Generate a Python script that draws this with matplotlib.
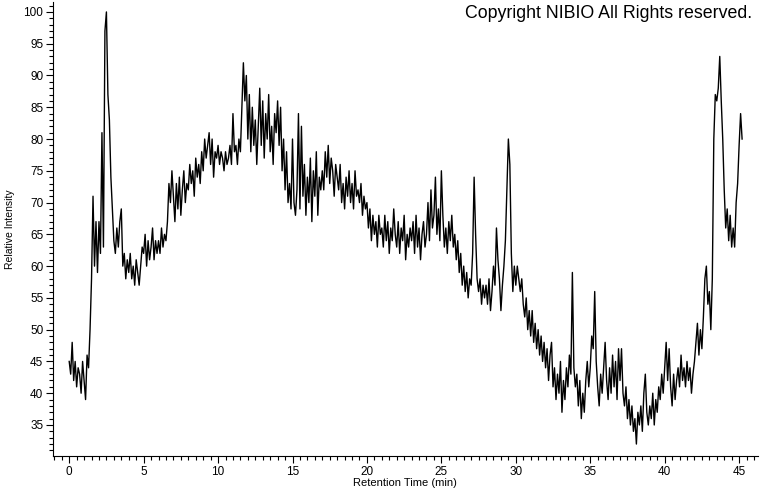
import numpy as np
import matplotlib.pyplot as plt
from matplotlib.ticker import MultipleLocator

# relative intensity, sampled every 0.1 min, one list per 5-minute block
rt_step = 0.1
block_00_05 = [
    45, 43, 48, 42, 45, 41, 44, 43, 40, 45,
    42, 39, 46, 44, 50, 58, 71, 60, 67, 59,
    67, 62, 81, 63, 97, 100, 87, 83, 74, 69,
    64, 62, 66, 63, 67, 69, 60, 62, 58, 61,
    59, 62, 58, 60, 57, 61, 59, 57, 60, 63,
]
block_05_10 = [
    62, 65, 60, 64, 61, 63, 66, 61, 64, 62,
    64, 62, 66, 63, 65, 64, 67, 73, 70, 75,
    71, 67, 73, 69, 74, 68, 72, 75, 70, 73,
    72, 76, 73, 75, 71, 77, 74, 76, 73, 78,
    75, 80, 77, 79, 81, 76, 80, 74, 78, 77,
]
block_10_15 = [
    79, 76, 78, 77, 75, 78, 76, 77, 79, 76,
    84, 78, 79, 76, 80, 78, 85, 92, 86, 90,
    80, 87, 78, 85, 79, 83, 76, 82, 88, 79,
    86, 77, 84, 80, 87, 78, 82, 76, 84, 81,
    86, 79, 85, 75, 80, 72, 78, 70, 73, 69,
]
block_15_20 = [
    80, 70, 68, 72, 84, 69, 82, 71, 76, 68,
    74, 70, 77, 67, 75, 71, 78, 68, 74, 72,
    75, 72, 78, 74, 79, 73, 77, 75, 71, 76,
    74, 72, 76, 70, 73, 69, 74, 71, 75, 70,
    73, 69, 75, 71, 72, 70, 73, 68, 71, 69,
]
block_20_25 = [
    70, 66, 69, 64, 68, 65, 67, 63, 68, 65,
    66, 63, 68, 64, 67, 62, 66, 64, 69, 65,
    63, 67, 62, 66, 64, 68, 61, 65, 63, 66,
    64, 67, 62, 68, 63, 66, 61, 65, 67, 63,
    65, 70, 64, 72, 66, 68, 74, 65, 69, 64,
]
block_25_30 = [
    75, 68, 63, 66, 62, 67, 64, 68, 63, 65,
    61, 64, 59, 62, 57, 60, 56, 59, 55, 58,
    57, 62, 74, 65, 58, 56, 58, 54, 57, 55,
    57, 54, 58, 53, 56, 60, 57, 66, 61, 58,
    53, 57, 60, 64, 72, 80, 76, 62, 56, 60,
]
block_30_35 = [
    57, 60, 58, 56, 58, 54, 52, 55, 50, 53,
    49, 53, 48, 51, 47, 50, 46, 49, 45, 48,
    44, 47, 42, 46, 48, 41, 44, 39, 43, 40,
    45, 37, 42, 39, 44, 41, 46, 43, 59, 44,
    41, 43, 38, 42, 36, 40, 37, 42, 45, 41,
]
block_35_40 = [
    44, 49, 47, 56, 45, 41, 38, 43, 40, 44,
    48, 42, 39, 44, 40, 46, 41, 45, 39, 47,
    42, 47, 40, 38, 41, 36, 39, 35, 38, 34,
    36, 32, 37, 35, 38, 34, 40, 43, 37, 35,
    38, 36, 40, 35, 39, 37, 41, 39, 43, 40,
]
block_40_45 = [
    44, 48, 42, 47, 41, 38, 43, 39, 42, 44,
    41, 46, 42, 44, 41, 45, 42, 44, 40, 43,
    45, 48, 51, 46, 50, 47, 52, 58, 60, 54,
    56, 50, 58, 80, 87, 86, 88, 93, 86, 80,
    72, 66, 69, 64, 68, 63, 66, 63, 70, 73,
]
block_45_end = [79, 84, 80]

intensity = np.array(block_00_05 + block_05_10 + block_10_15 + block_15_20
                     + block_20_25 + block_25_30 + block_30_35 + block_35_40
                     + block_40_45 + block_45_end, dtype=float)
rt = np.arange(len(intensity)) * rt_step

fig = plt.figure(figsize=(7.6, 4.92), dpi=100)
ax = fig.add_axes([0.0697, 0.0732, 0.9273, 0.9228])
ax.plot(rt, intensity, color="black", linewidth=1.0)

ax.set_xlim(-1.09, 46.25)
ax.set_ylim(30.12, 101.57)
ax.spines["top"].set_visible(False)
ax.spines["right"].set_visible(False)
ax.xaxis.set_major_locator(MultipleLocator(5))
ax.xaxis.set_minor_locator(MultipleLocator(0.5))
ax.yaxis.set_major_locator(MultipleLocator(5))
ax.yaxis.set_minor_locator(MultipleLocator(1))
ax.tick_params(which="major", length=5, width=0.8, direction="out", labelsize=8.5, pad=2)
ax.tick_params(which="minor", length=3, width=0.8, direction="out")

font = "Liberation Sans"
for lbl in ax.get_xticklabels() + ax.get_yticklabels():
    lbl.set_family(font)
ax.set_xlabel("Retention Time (min)", family=font, fontsize=8, labelpad=0)
ax.set_ylabel("Relative Intensity", family=font, fontsize=7.5, labelpad=6)
fig.text(0.99, 0.972, "Copyright NIBIO All Rights reserved.", family=font,
         fontsize=12.8, ha="right", va="center")

plt.savefig("out.png", dpi=100)
